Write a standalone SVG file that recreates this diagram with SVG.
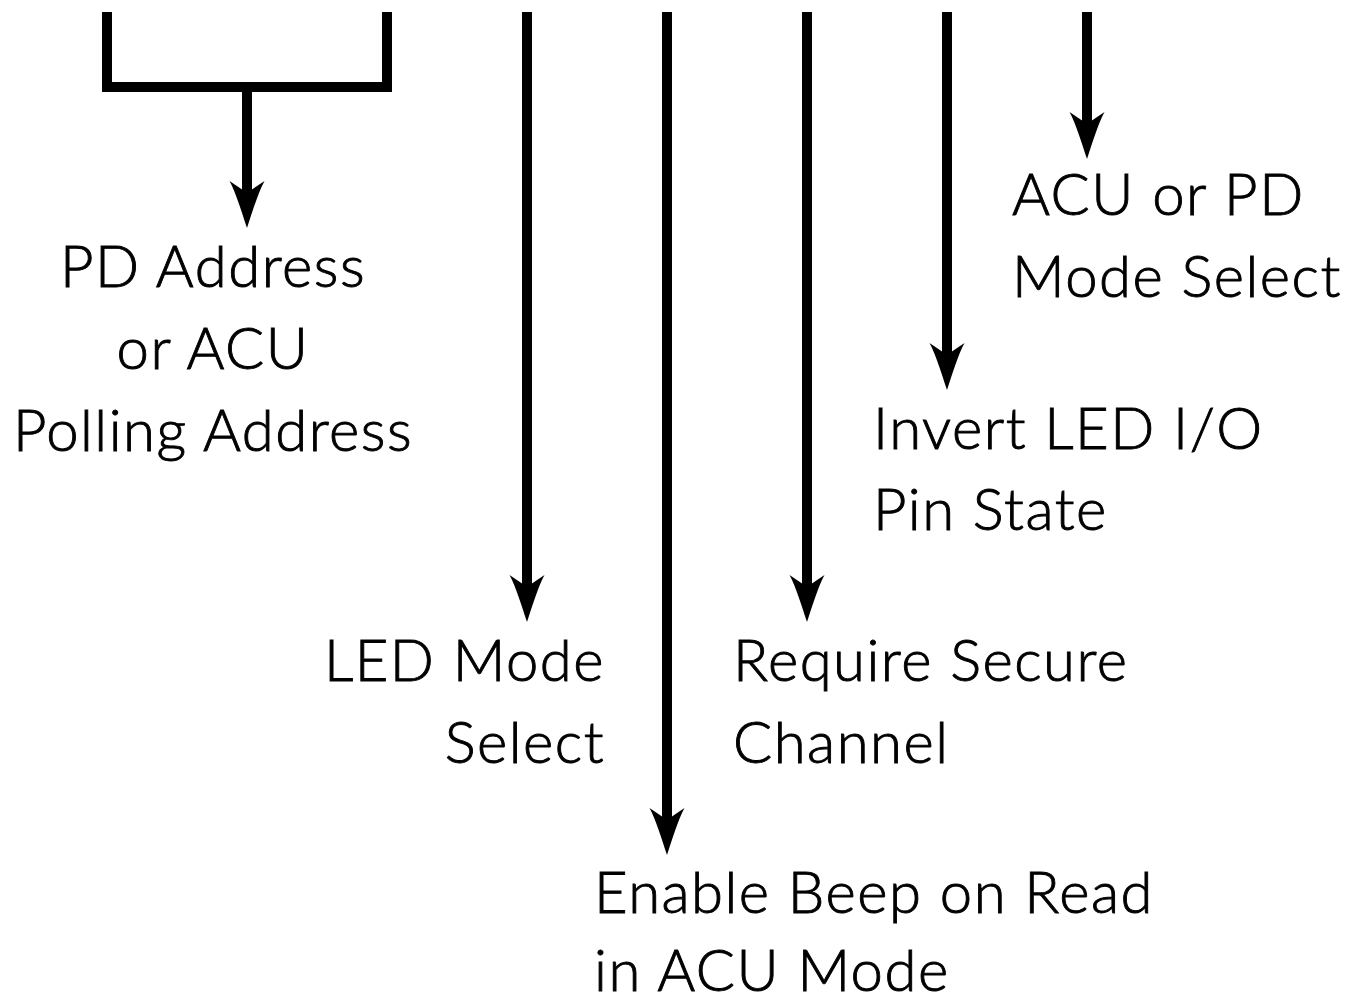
<svg xmlns="http://www.w3.org/2000/svg" width="1361" height="998" viewBox="0 0 1361 998">
  <style>
    .lbl { font-family: "Lato", "Noto Sans", "Liberation Sans", sans-serif; font-size: 58px; font-weight: 300; letter-spacing: 1.5px; fill: #000; stroke: #000; stroke-width: 0.9px; }
    .wire { fill: none; stroke: #000; stroke-width: 10; stroke-linejoin: miter; stroke-linecap: butt; }
  </style>
  <defs>
    <marker id="head" markerUnits="userSpaceOnUse" markerWidth="50" markerHeight="40" refX="17" refY="0" viewBox="0 -20 50 40" orient="auto" overflow="visible">
      <path d="M47,0 C32,-5 12,-11 0,-17.5 Q7,-7 12,0 Q7,7 0,17.5 C12,11 32,5 47,0 Z" fill="#000"/>
    </marker>
  </defs>
  <rect width="1361" height="998" fill="#fff"/>
  <g id="connectors">
    <path class="wire" d="M107,12 V87 H387 V12"/>
    <line class="wire" x1="247" y1="87" x2="247" y2="198" marker-end="url(#head)"/>
    <line class="wire" x1="527" y1="12" x2="527" y2="592" marker-end="url(#head)"/>
    <line class="wire" x1="667" y1="12" x2="667" y2="825" marker-end="url(#head)"/>
    <line class="wire" x1="807" y1="12" x2="807" y2="592" marker-end="url(#head)"/>
    <line class="wire" x1="947" y1="12" x2="947" y2="360" marker-end="url(#head)"/>
    <line class="wire" x1="1087" y1="12" x2="1087" y2="129" marker-end="url(#head)"/>
  </g>
  <g id="pd-address">
    <text class="lbl" text-anchor="middle" x="213" y="287">PD Address</text>
    <text class="lbl" text-anchor="middle" x="213" y="369">or ACU</text>
    <text class="lbl" text-anchor="middle" x="213" y="451">Polling Address</text>
  </g>
  <g id="led-mode">
    <text class="lbl" text-anchor="end" x="605" y="681">LED Mode</text>
    <text class="lbl" text-anchor="end" x="605" y="763">Select</text>
  </g>
  <g id="beep">
    <text class="lbl" x="594" y="913">Enable Beep on Read</text>
    <text class="lbl" x="594" y="991">in ACU Mode</text>
  </g>
  <g id="secure">
    <text class="lbl" x="733" y="681">Require Secure</text>
    <text class="lbl" x="733" y="763">Channel</text>
  </g>
  <g id="invert">
    <text class="lbl" x="873" y="449" letter-spacing="0.5">Invert LED I/O</text>
    <text class="lbl" x="873" y="530">Pin State</text>
  </g>
  <g id="mode-select">
    <text class="lbl" x="1012" y="215">ACU or PD</text>
    <text class="lbl" x="1012" y="297">Mode Select</text>
  </g>
</svg>
